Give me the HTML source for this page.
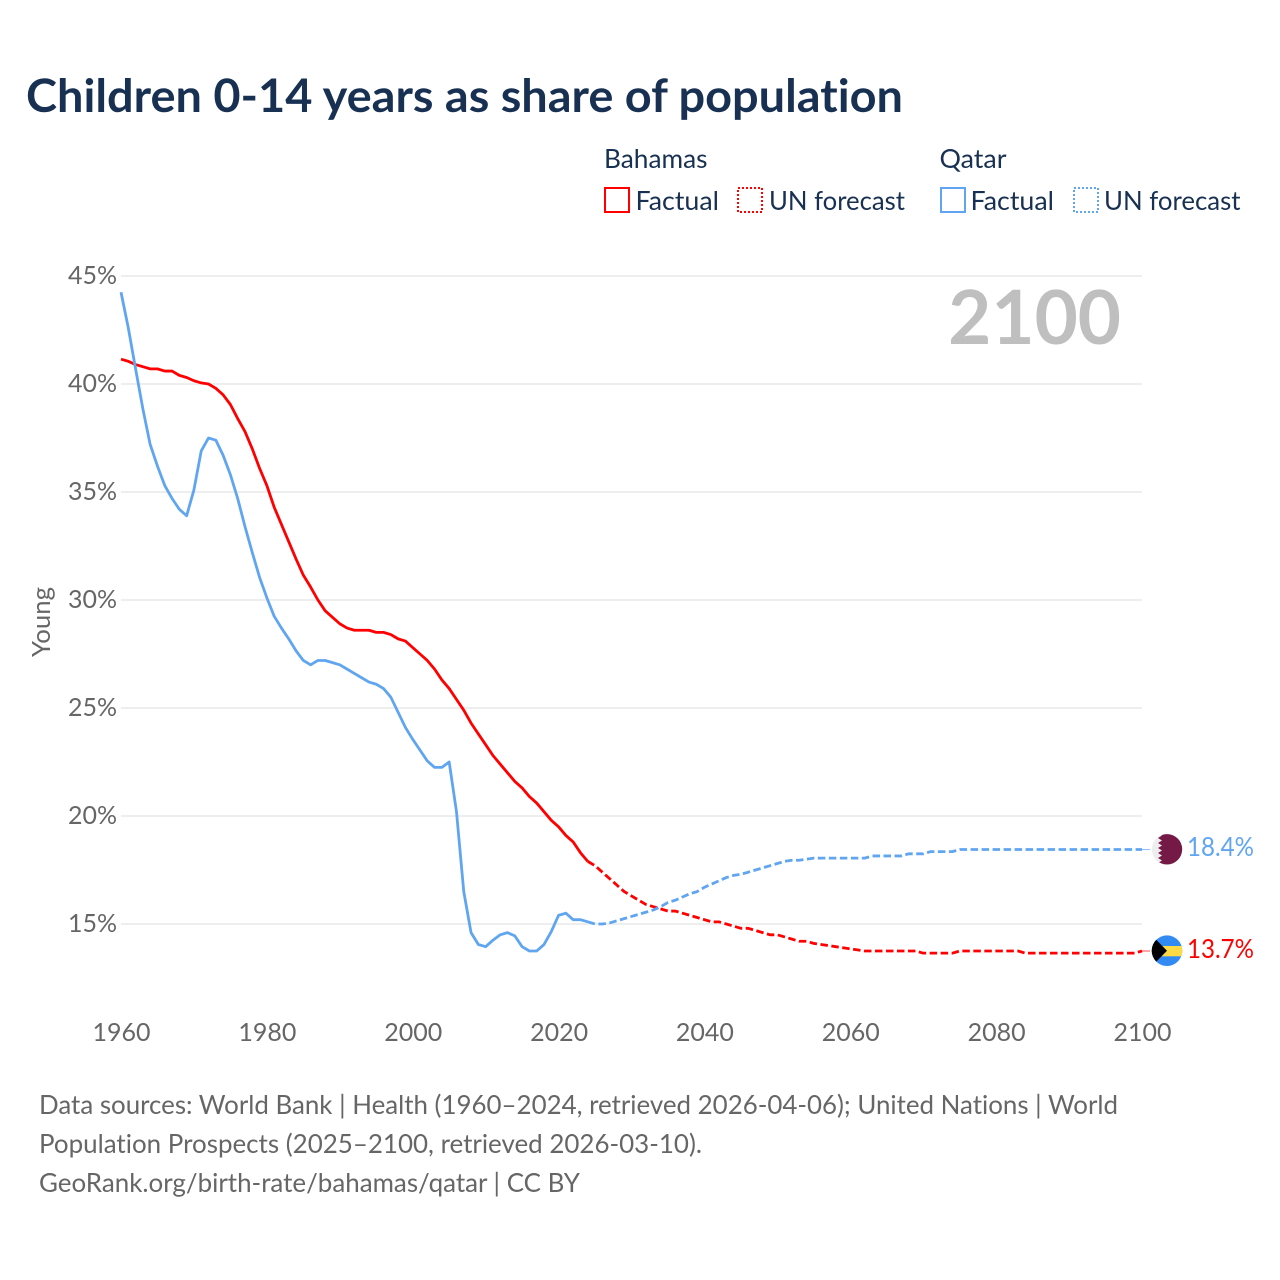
<!DOCTYPE html>
<html lang="en">
<head>
<meta charset="utf-8">
<title>Children 0-14 years as share of population</title>
<style>
html,body{margin:0;padding:0;background:#fff;width:1280px;height:1280px;overflow:hidden}
svg{display:block}
text{font-family:"Lato","Carlito","Liberation Sans",sans-serif;font-variant-ligatures:none}
</style>
</head>
<body>
<svg id="chart" xmlns="http://www.w3.org/2000/svg" width="1280" height="1280" viewBox="0 0 1280 1280">
  <text x="26" y="112" font-size="46" font-weight="700" fill="#183153" textLength="877" lengthAdjust="spacingAndGlyphs">Children 0-14 years as share of population</text>

  <g font-size="26" fill="#183153">
    <text x="604" y="168" textLength="103.5" lengthAdjust="spacingAndGlyphs">Bahamas</text>
    <text x="939.5" y="168" textLength="67" lengthAdjust="spacingAndGlyphs">Qatar</text>
    <rect x="605" y="188" width="24" height="24" fill="none" stroke="#ff0000" stroke-width="2"/>
    <text x="635.5" y="210" textLength="83.5" lengthAdjust="spacingAndGlyphs">Factual</text>
    <rect x="738" y="188" width="24" height="24" fill="none" stroke="#ff0000" stroke-width="2" stroke-dasharray="2 2"/>
    <text x="769" y="210" textLength="136" lengthAdjust="spacingAndGlyphs">UN forecast</text>
    <rect x="941" y="188" width="24" height="24" fill="none" stroke="#60a5f0" stroke-width="2"/>
    <text x="970.5" y="210" textLength="83.5" lengthAdjust="spacingAndGlyphs">Factual</text>
    <rect x="1074" y="188" width="24" height="24" fill="none" stroke="#60a5f0" stroke-width="2" stroke-dasharray="2 2"/>
    <text x="1104" y="210" textLength="136.5" lengthAdjust="spacingAndGlyphs">UN forecast</text>
  </g>

  <g id="grid"></g>
  <g id="yticks" font-size="25" fill="#666666" text-anchor="end"></g>
  <g id="xticks" font-size="25" fill="#666666" text-anchor="middle"></g>
  <text transform="translate(50,622) rotate(-90)" font-size="25" fill="#666666" text-anchor="middle" textLength="70" lengthAdjust="spacingAndGlyphs">Young</text>
  <text x="1121" y="344" font-size="74.5" font-weight="700" fill="#bfbfbf" text-anchor="end">2100</text>

  <g id="series"></g>

  <g>
    <clipPath id="clip-q"><circle cx="1167" cy="849.300" r="15.200"/></clipPath>
    <g clip-path="url(#clip-q)">
      <rect x="1151" y="833" width="32" height="33" fill="#eeeeee"/>
      <polygon fill="#751a46" points="1183,833 1158,833 1162,835.500 1158,838 1162,840.500 1158,843 1162,845.500 1158,848 1162,850.500 1158,853 1162,855.500 1158,858 1162,860.500 1158,863 1162,865.500 1183,866"/>
    </g>
  </g>
  <g>
    <clipPath id="clip-b"><circle cx="1167" cy="950.700" r="15.300"/></clipPath>
    <g clip-path="url(#clip-b)">
      <rect x="1151" y="935" width="32" height="32" fill="#338af3"/>
      <rect x="1151" y="946" width="32" height="10.300" fill="#ffda44"/>
      <polygon points="1151,934.500 1167,950.700 1151,967" fill="#000000"/>
    </g>
  </g>

  <text id="label-qatar" x="1187" y="856" font-size="26" fill="#60a5f0" textLength="67" lengthAdjust="spacingAndGlyphs">18.4%</text>
  <text id="label-bahamas" x="1187" y="958" font-size="26" fill="#ff0000" textLength="67" lengthAdjust="spacingAndGlyphs">13.7%</text>

  <g font-size="26" fill="#666666">
    <text x="39" y="1114" textLength="1079" lengthAdjust="spacingAndGlyphs">Data sources: World Bank | Health (1960–2024, retrieved 2026-04-06); United Nations | World</text>
    <text x="39" y="1153" textLength="663" lengthAdjust="spacingAndGlyphs">Population Prospects (2025–2100, retrieved 2026-03-10).</text>
    <text x="39" y="1192" textLength="541" lengthAdjust="spacingAndGlyphs">GeoRank.org/birth-rate/bahamas/qatar | CC BY</text>
  </g>
</svg>
<script>
const startYear = 1960;
const lastFactualYear = 2025;
const yTickValues = [45, 40, 35, 30, 25, 20, 15];
const xTickValues = [1960, 1980, 2000, 2020, 2040, 2060, 2080, 2100];
const bahamasValues = [
  41.15, 41.05, 40.9, 40.8, 40.7, 40.7, 40.6, 40.6, 40.4, 40.3,
  40.15, 40.05, 40.0, 39.8, 39.5, 39.05, 38.4, 37.8, 37.0, 36.1,
  35.3, 34.3, 33.5, 32.7, 31.9, 31.15, 30.6, 30.0, 29.5, 29.2,
  28.9, 28.7, 28.6, 28.6, 28.6, 28.5, 28.5, 28.4, 28.2, 28.1,
  27.8, 27.5, 27.2, 26.8, 26.3, 25.9, 25.4, 24.9, 24.3, 23.8,
  23.3, 22.8, 22.4, 22.0, 21.6, 21.3, 20.9, 20.6, 20.2, 19.8,
  19.5, 19.1, 18.8, 18.3, 17.9, 17.7,
  17.4, 17.1, 16.8, 16.5, 16.3, 16.1, 15.9, 15.8, 15.7, 15.6,
  15.6, 15.5, 15.4, 15.3, 15.2, 15.1, 15.1, 15.0, 14.9, 14.8,
  14.8, 14.7, 14.6, 14.5, 14.5, 14.4, 14.3, 14.2, 14.2, 14.1,
  14.05, 14.0, 13.95, 13.9, 13.85, 13.8, 13.75, 13.75, 13.75, 13.75,
  13.75, 13.75, 13.75, 13.75, 13.65, 13.65, 13.65, 13.65, 13.65, 13.75,
  13.75, 13.75, 13.75, 13.75, 13.75, 13.75, 13.75, 13.75, 13.65, 13.65,
  13.65, 13.65, 13.65, 13.65, 13.65, 13.65, 13.65, 13.65, 13.65, 13.65,
  13.65, 13.65, 13.65, 13.65, 13.75
];
const qatarValues = [
  44.25, 42.6, 40.7, 38.85, 37.2, 36.2, 35.3, 34.7, 34.2, 33.9,
  35.1, 36.9, 37.5, 37.4, 36.7, 35.8, 34.7, 33.4, 32.2, 31.05,
  30.1, 29.25, 28.7, 28.2, 27.65, 27.2, 27.0, 27.2, 27.2, 27.1,
  27.0, 26.8, 26.6, 26.4, 26.2, 26.1, 25.9, 25.5, 24.8, 24.1,
  23.55, 23.05, 22.55, 22.25, 22.25, 22.5, 20.2, 16.5, 14.6, 14.05,
  13.95, 14.25, 14.5, 14.6, 14.45, 13.95, 13.75, 13.75, 14.05, 14.65,
  15.4, 15.5, 15.2, 15.2, 15.1, 15.0,
  15.0, 15.05, 15.15, 15.25, 15.35, 15.45, 15.55, 15.65, 15.8, 16.0,
  16.1, 16.25, 16.4, 16.5, 16.7, 16.85, 17.0, 17.15, 17.25, 17.3,
  17.4, 17.5, 17.6, 17.7, 17.8, 17.9, 17.95, 17.95, 18.0, 18.05,
  18.05, 18.05, 18.05, 18.05, 18.05, 18.05, 18.05, 18.15, 18.15, 18.15,
  18.15, 18.15, 18.25, 18.25, 18.25, 18.35, 18.35, 18.35, 18.35, 18.45,
  18.45, 18.45, 18.45, 18.45, 18.45, 18.45, 18.45, 18.45, 18.45, 18.45,
  18.45, 18.45, 18.45, 18.45, 18.45, 18.45, 18.45, 18.45, 18.45, 18.45,
  18.45, 18.45, 18.45, 18.45, 18.45
];

const xScale = function (year) { return 121 + (year - 1960) * (1142 - 121) / 140; };
const yScale = function (v) { return 276 + (45 - v) * 21.6; };
const NS = 'http://www.w3.org/2000/svg';

function make(tag, attrs, parent, text) {
  const el = document.createElementNS(NS, tag);
  Object.keys(attrs).forEach(function (k) { el.setAttribute(k, attrs[k]); });
  if (text !== undefined) el.textContent = text;
  parent.appendChild(el);
  return el;
}

const gridG = document.getElementById('grid');
const yG = document.getElementById('yticks');
const xG = document.getElementById('xticks');
const seriesG = document.getElementById('series');

yTickValues.forEach(function (v) {
  const line = make('line', { x1: 121, x2: 1142, y1: yScale(v), y2: yScale(v), stroke: '#eeeeee', 'stroke-width': 2 }, gridG);
  
  
  const label = make('text', { x: 117, y: yScale(v) + 8 }, yG, v + '%');
  
  
});

xTickValues.forEach(function (year) {
  const label = make('text', { x: xScale(year) + 0.5, y: 1041 }, xG, String(year));
  
  
});

function pointsFor(values, fromYear, toYear) {
  const pts = [];
  values.forEach(function (v, i) {
    const year = startYear + i;
    if (year >= fromYear && year <= toYear) pts.push(xScale(year).toFixed(2) + ',' + yScale(v).toFixed(2));
  });
  return pts.join(' ');
}

function drawSeries(values, colour, name) {
  const lastYear = startYear + values.length - 1;
  const factual = make('polyline', { points: pointsFor(values, startYear, lastFactualYear - 1), fill: 'none', stroke: colour, 'stroke-width': 2.8, 'stroke-linejoin': 'round' }, seriesG);
  
  
  const forecast = make('polyline', { points: pointsFor(values, lastFactualYear - 1, lastYear), fill: 'none', stroke: colour, 'stroke-width': 2.8, 'stroke-dasharray': '7.5 3.5', 'stroke-linejoin': 'round' }, seriesG);
  
  
  const lastY = yScale(values[values.length - 1]);
  const connector = make('line', { x1: xScale(lastYear), y1: lastY, x2: 1150, y2: lastY, stroke: colour, 'stroke-width': 1, opacity: 0.7 }, seriesG);
  
  
}

drawSeries(bahamasValues, '#ff0000', 'bahamas');
drawSeries(qatarValues, '#60a5f0', 'qatar');
</script>
</body>
</html>
